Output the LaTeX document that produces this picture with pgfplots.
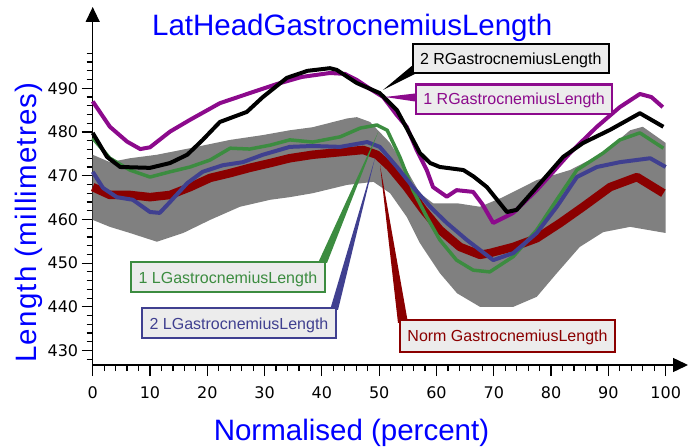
\documentclass[border=0pt]{standalone}
\usepackage{fontspec}
\setmainfont{Liberation Sans}
\newfontfamily\tickfont{DejaVu Sans}
\newfontfamily\ylabfont[LetterSpace=4]{Liberation Sans}
\usepackage{pgfplots}
\pgfplotsset{compat=1.18}
\usepgfplotslibrary{fillbetween}
\usetikzlibrary{arrows.meta}
\definecolor{cpurple}{RGB}{140,10,140}
\definecolor{cgreen}{RGB}{60,140,64}
\definecolor{cblue}{RGB}{64,64,144}
\definecolor{cred}{RGB}{139,0,0}
\definecolor{cband}{RGB}{128,128,128}
\definecolor{cbox}{RGB}{236,236,236}
\definecolor{ctitle}{RGB}{0,0,255}
\newcommand{\cf}{\fontsize{16bp}{16bp}\selectfont}
\newcommand{\bigf}{\fontsize{29.5bp}{30bp}\selectfont}
\begin{document}
\begin{tikzpicture}
\begin{axis}[
  at={(0,0)}, anchor=south west,
  scale only axis, width=595.3bp, height=358bp,
  xmin=0, xmax=103.9, ymin=426.7, ymax=508.6,
  axis lines=left,
  axis line style={line width=1.4bp, -{Triangle[length=15bp,width=14bp]}},
  xtick={0,10,...,100}, ytick={430,440,...,490},
  minor xtick={0,2,...,100}, minor ytick={428,430,...,498},
  tick align=outside,
  major tick length=11bp, minor tick length=6bp,
  tick style={black, line width=1.2bp},
  ticklabel style={font=\tickfont\fontsize{16bp}{16bp}\selectfont, text=black},
  xticklabel style={yshift=-7bp},
  /pgf/number format/assume math mode=true,
  clip=false,
]
% grey normative band
\addplot[name path=U, draw=none] coordinates {
(0,474.8) (3,473.1) (6.5,474) (11.2,474.8) (17,476.3) (24,478.2) (29.7,479.3) (34.4,480.4) (38.4,481.1) (44.4,483.1) (46.1,483.4) (48.4,482.3) (51.9,477.5) (54.8,471.3) (57.1,466) (59.4,463.7) (63.6,463.7) (67.6,462.9) (71.6,465.1) (77.5,469) (83.3,471.3) (89.1,475.2) (93.8,480.4) (96,481.2) (100,477.5)};
\addplot[name path=L, draw=none] coordinates {
(0,459.9) (3,458.3) (6.5,456.9) (11.2,454.9) (15.8,456.9) (20.5,459.9) (25.7,462.9) (31,464.5) (34.4,465.1) (38.4,466) (44.4,467.9) (49,468.6) (51.9,466) (54.8,460.6) (57.1,454.6) (60.6,447.7) (63.6,443.1) (67.6,440) (73.4,440) (77.5,442.3) (81,447.7) (85,453.7) (89.1,457.1) (93.8,458.3) (100,456.9)};
\addplot[fill=cband, draw=none] fill between[of=U and L];
% Norm
\addplot[cred, line width=8.5bp, line join=round] coordinates {
(0,467.4) (3,465.6) (6.5,465.6) (10,465.1) (13.5,465.6) (17,467.4) (20.5,469.5) (24,470.6) (27.4,471.8) (31,472.9) (34.4,474) (38.4,474.8) (43.2,475.4) (47.2,475.9) (49.6,474.8) (51.9,472) (54.8,467.4) (57.7,462.2) (60.6,457.6) (64.1,453.7) (67.6,451.9) (69.3,452.3) (73.4,453.7) (77.5,455.7) (81.6,459.2) (85.6,462.9) (90.3,467.4) (95,469.7) (99.6,466)};
% 1 L
\addplot[cgreen, line width=3.5bp, line join=round] coordinates {
(0,478.6) (3,474) (6.5,471.3) (10,469.7) (13.5,470.9) (17,472) (20.5,473.6) (24,476.3) (27.4,476.1) (31,477) (34.4,478.2) (38.4,477.7) (43.2,478.9) (46.7,480.9) (49.6,481.6) (51.4,480.4) (53.6,474.3) (55.9,466.7) (58.3,460.6) (60.6,455.3) (63.5,450.7) (66.4,448.4) (69.3,448) (73.4,451.5) (77.5,457.6) (81,464.5) (84.5,471.3) (89.1,475.2) (92,478.2) (95.5,479.8) (99.6,476.3)};
% 2 L
\addplot[cblue, line width=4bp, line join=round] coordinates {
(0,470.9) (1.8,467.2) (4.2,465.1) (7,464.5) (10,461.7) (11.7,461.5) (13.5,464) (16.5,468.3) (19.2,470.9) (22.7,472.4) (26.2,473.1) (29.7,474.8) (34.4,476.6) (38.4,476.8) (43.2,476.6) (47.9,477.7) (50.1,476.6) (53.1,472) (55.9,467.4) (58.9,462.9) (61.8,459.2) (65.3,455.3) (67.6,453) (69.9,450.7) (73.4,452.3) (77.5,456.9) (81,462.9) (84.5,469.7) (88,472) (92,473.1) (97.3,474) (100,472)};
% 1 R
\addplot[cpurple, line width=4bp, line join=round] coordinates {
(0,487.0) (3.0,481.2) (6,477.8) (8.3,476.1) (10.0,476.5) (13.5,480.1) (17.0,482.8) (22.2,486.6) (27.4,488.9) (32.2,491.0) (36.5,492.6) (41.4,493.5) (44,493.3) (46.1,491.9) (48.5,489.8) (50.7,488) (53,484) (54.8,481.2) (56.5,476) (58.3,471.3) (59.4,467.4) (61.8,465.2) (63.5,466.7) (66.4,466.3) (68,463.5) (69.9,459.2) (73.4,461.5) (77.5,466.7) (83.3,475.2) (88,481.2) (92,485.7) (95.5,488.7) (97.5,488) (99.5,485.7)};
% 2 R
\addplot[black, line width=4bp, line join=round] coordinates {
(0,479.8) (2.5,474.3) (4.8,472) (10,471.8) (13.5,472.9) (16.5,474.8) (19.2,478.2) (22.2,482.3) (26.9,484.6) (29.7,488) (33.9,492.4) (37.5,494) (41.4,494.6) (42.6,494.2) (46.1,491.2) (50.1,488.9) (53.1,485) (55.9,478.2) (57.1,475.2) (58.9,472.9) (60.6,472) (64.7,471.3) (66.5,469.8) (68.8,467.4) (72.3,461.7) (74,462.2) (77.5,467.4) (82.1,474.3) (85.6,477.5) (90.3,480.5) (95.5,484.3) (99.6,481.2)};
\end{axis}
\begin{scope}[x=1bp,y=-1bp,shift={(-92.7bp,365bp)}]
\node[anchor=base, text=ctitle, font=\bigf] at (352.2,35.7) {LatHeadGastrocnemiusLength};
\node[anchor=base, text=ctitle, font=\bigf] at (351.5,440.7) {Normalised (percent)};
\node[anchor=base, rotate=90, text=ctitle, font=\ylabfont\bigf] at (36.7,222.5) {Length (millimetres)};
% callouts
\fill[black] (411.7,66) -- (415,74) -- (383,90) -- cycle;
\draw[black, line width=2.5bp, fill=cbox] (412.9,43.9) rectangle (608.8,73.1);
\node[anchor=base, font=\cf, text=black] at (510.8,64.8) {2 RGastrocnemiusLength};
\fill[cpurple] (415,93.5) -- (415,101.5) -- (385,97) -- cycle;
\draw[cpurple, line width=2.5bp, fill=cbox] (416.2,84.5) rectangle (612,113.8);
\node[anchor=base, font=\cf, text=cpurple] at (514.1,105) {1 RGastrocnemiusLength};
\fill[cgreen] (318,263) -- (327,263) -- (378.3,131.7) -- cycle;
\draw[cgreen, line width=2.5bp, fill=cbox] (131.2,262.2) rectangle (324.8,292.1);
\node[anchor=base, font=\cf, text=cgreen] at (228,283.3) {1 LGastrocnemiusLength};
\fill[cblue] (330,310) -- (338,310) -- (375,158) -- cycle;
\draw[cblue, line width=2.5bp, fill=cbox] (142.2,308.2) rectangle (335.8,337.8);
\node[anchor=base, font=\cf, text=cblue] at (239,329.3) {2 LGastrocnemiusLength};
\fill[cred] (398,323) -- (408,323) -- (380,165) -- cycle;
\draw[cred, line width=2.5bp, fill=cbox] (400.2,320.2) rectangle (614.8,351.8);
\node[anchor=base, font=\cf, text=cred] at (507.5,341.7) {Norm GastrocnemiusLength};
\pgfresetboundingbox
\path[use as bounding box] (0,0) rectangle (688,447);
\end{scope}
\end{tikzpicture}
\end{document}
